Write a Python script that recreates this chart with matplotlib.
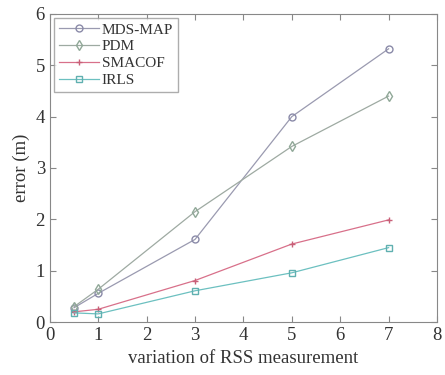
import matplotlib
matplotlib.use('Agg')
import matplotlib.pyplot as plt

# error of each localisation method against RSS variation
variation = [0.5, 1, 3, 5, 7]
mds_map = [0.28, 0.56, 1.61, 4.0, 5.32]
pdm = [0.30, 0.64, 2.15, 3.42, 4.40]
smacof = [0.20, 0.25, 0.81, 1.52, 1.99]
irls = [0.18, 0.16, 0.61, 0.96, 1.45]

plt.rcParams['font.family'] = ['Liberation Serif', 'DejaVu Serif']

fig = plt.figure(figsize=(4.45, 3.75), dpi=100)
ax = fig.add_axes([0.112, 0.141, 0.870, 0.822])

ax.plot(variation, mds_map, color='#9a9ab0', marker='o', markersize=5,
        markerfacecolor='none', markeredgecolor='#8a8aa8', lw=0.9, label='MDS-MAP')
ax.plot(variation, pdm, color='#9eaaa2', marker='d', markersize=5,
        markerfacecolor='none', markeredgecolor='#90a898', lw=0.9, label='PDM')
ax.plot(variation, smacof, color='#d8708a', marker='+', markersize=5,
        markeredgecolor='#c86078', lw=0.9, label='SMACOF')
ax.plot(variation, irls, color='#6cc0c0', marker='s', markersize=5,
        markerfacecolor='none', markeredgecolor='#60b0b0', lw=0.9, label='IRLS')

ax.set_xlim(0, 8)
ax.set_ylim(0, 6)
ax.set_xticks(range(0, 9))
ax.set_yticks(range(0, 7))
ax.tick_params(direction='in', top=True, right=True, labelsize=13.5,
               color='#888888', length=4, labelcolor='#333333')
for s in ax.spines.values():
    s.set_color('#888888')

ax.set_xlabel('variation of RSS measurement', fontsize=13.5, color='#333333')
ax.set_ylabel('error (m)', fontsize=13.5, color='#333333')

leg = ax.legend(loc='upper left', fontsize=11, frameon=True, fancybox=False,
                borderaxespad=0.3, handlelength=2.6, labelspacing=0.2,
                borderpad=0.3, handletextpad=0.2)
leg.get_frame().set_edgecolor('#999999')
leg.get_frame().set_linewidth(1.0)
for t in leg.get_texts():
    t.set_color('#333333')

fig.savefig('out.png', dpi=100)
